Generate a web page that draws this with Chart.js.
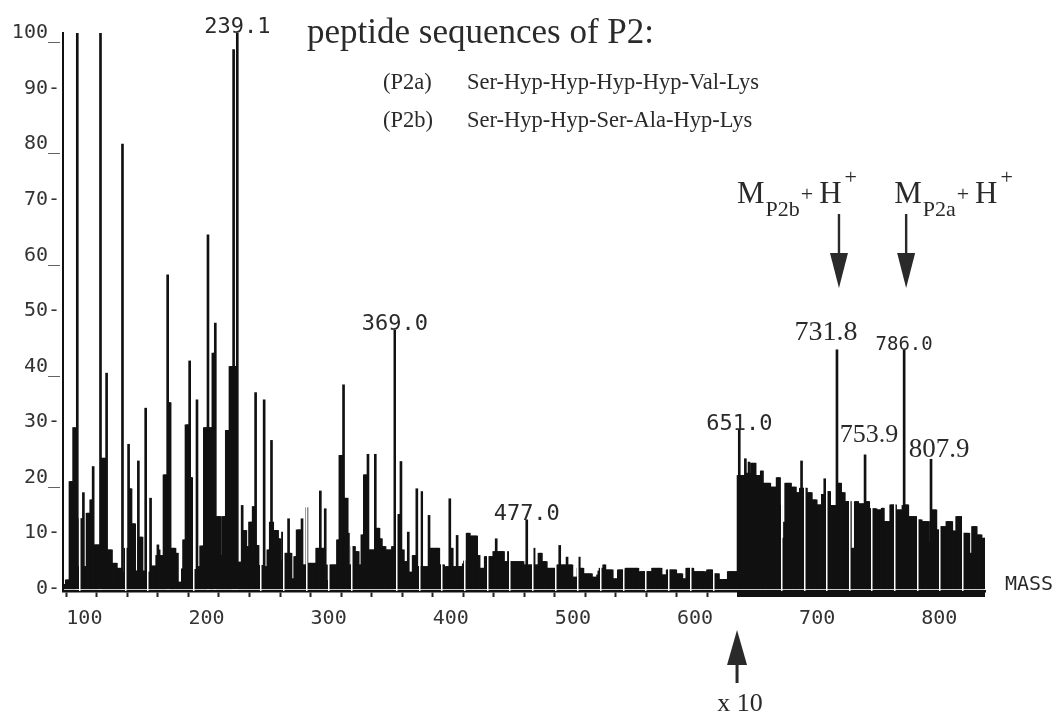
<!DOCTYPE html>
<html lang="en">
<head>
<meta charset="utf-8">
<title>Peptide P2 - mass spectrum</title>
<script src="https://cdn.jsdelivr.net/npm/chart.js@4.4.0/dist/chart.umd.min.js"></script>
<style>
    html, body { margin: 0; padding: 0; background: #fff; }
    #wrap { position: relative; width: 1060px; height: 715px; }
</style>
</head>
<body>
<div id="wrap"><canvas id="spectrum"></canvas></div>
<script>
// Интенсивности, одна точка на единицу массы
const lowStart = 98;
const lowIntensity = [
    0, 0.8, 1.6, 1.6, 1.6, 19.3, 19.3, 19.3, 29, 29,            // 98
    20, 100, 4, 12.6, 12.6, 12.6, 17.3, 4, 4, 13.6,             // 108
    13.6, 13.6, 16, 16, 22, 7.9, 7.9, 7.9, 7.9, 7.9,            // 118
    100, 23.5, 23.5, 23.5, 23.5, 38.8, 7, 7, 7, 7,              // 128
    4.6, 4.6, 4.6, 4.6, 3.7, 3.7, 3.7, 3.7, 80, 3,              // 138
    7.3, 7.3, 7.3, 26, 18, 18, 11.7, 11.7, 11.7, 3.2,           // 148
    3.2, 23, 9.3, 9.3, 9.3, 3.2, 3.2, 32.5, 3, 3,               // 158
    3, 16.3, 4.1, 4.1, 4.1, 4.1, 6, 7.9, 7, 6,                  // 168
    6, 6, 20.5, 20.5, 20.5, 56.5, 33.5, 33.5, 7.3, 7.3,         // 178
    7.3, 7.3, 6.4, 6.4, 1.2, 1.2, 1.2, 3.6, 8.8, 8.8,           // 188
    29.5, 29.5, 29.5, 41, 20, 20, 3.5, 3.5, 3.5, 34,            // 198
    4, 4, 7.7, 7.7, 7.7, 29, 29, 29, 63.7, 29,                  // 208
    29, 29, 42.4, 42.4, 47.8, 13, 13, 13, 13, 6,                // 218
    13, 13, 13, 28.5, 28.5, 28.5, 40, 40, 40, 97,               // 228
    40, 40, 100, 4.8, 4.8, 4.8, 15, 10.5, 10.5, 10.5,           // 238
    7.6, 7.6, 12, 12, 12, 14.8, 14.8, 35.3, 7.8, 7.8,           // 248
    4.2, 4.2, 4.2                                               // 258
];
const midStart = 261;
const midIntensity = [
    4.2, 34, 4, 4, 7, 7, 12, 26.7, 12, 10.5,                    // 261
    10.5, 10.5, 10.5, 9, 9, 5, 10.2, 5, 6.4, 6.4,               // 271
    6.4, 12.6, 6.4, 6.4, 1.8, 1.8, 5.8, 5.8, 10.6, 10.6,        // 281
    10.6, 10.6, 12.6, 4.3, 4.3, 4.3, 14.6, 4.6, 4.6, 4.6,       // 291
    4.6, 4.6, 4.6, 4.6, 7.3, 7.3, 7.3, 17.6, 7.3, 7.3,          // 301
    7.3, 14.4, 4.3, 1.5, 1.5, 4.3, 4.3, 4.3, 4.3, 4.3,          // 311
    4.3, 8.8, 8.8, 24, 24, 24, 36.7, 16.3, 16.3, 16.3,          // 321
    10, 4.3, 4.3, 7.6, 7.6, 7.6, 6.7, 6.7, 6.7, 4.3,            // 331
    4.3, 9.7, 9.7, 20.5, 20.5, 20.5, 24.2, 7, 7, 7,             // 341
    7, 7, 24.2, 10.9, 10.9, 10.9, 9, 9, 7.6, 7.6,               // 351
    7.6, 7, 7, 7, 7, 7, 7.6, 7.6, 46.5, 13.4,                   // 361
    13.4, 13.4, 13.4, 22.9, 7, 7, 4.9, 4.9, 4.9, 10.2,          // 371
    3, 3, 3, 6, 6, 6, 18, 4, 4, 4,                              // 381
    17.5, 4, 4, 4, 4, 4, 13.2, 7.3, 7.3, 7.3,                   // 391
    7.3, 7.3, 7.3, 7.3, 7.3, 4.3, 4.3, 4.3, 4.3, 2,             // 401
    4, 4, 4, 16.2, 7.3, 7.3, 4, 4, 4, 9.6,                      // 411
    4, 4, 4, 4, 4.5, 5, 5, 10, 10, 10,                          // 421
    9.5, 9.5, 9.5, 9.5, 9.5, 9.5, 6, 6, 3.7, 3.7,               // 431
    3.7, 3.7, 5.8, 5.8, 5.8, 5.8, 5.8, 5.8, 5.8, 6.7,           // 441
    6.7, 9, 6.7, 6.7, 6.7, 6.7, 6.7, 6.7, 4.9, 4.9,             // 451
    4.9, 6.7, 4.9, 4.9, 4.9, 4.9, 4.9, 4.9, 4.9, 4.9,           // 461
    4.9, 4.9, 4.9, 4.9, 4.3, 4.3, 12.4, 4.3, 4.3, 4.3           // 471
];
const highStart = 481;
const highIntensity = [
    4.3, 4.3, 7.3, 4.3, 4.3, 4.3, 6.4, 6.4, 6.4, 4.9,           // 481
    4.9, 4.9, 4.9, 3.7, 3.7, 3.7, 3.7, 3.7, 3.7, 3.7,           // 491
    3.7, 4.3, 4.3, 7.8, 4.3, 4.3, 4.3, 4.3, 4.3, 5.7,           // 501
    4.3, 4.3, 4.3, 4.3, 2.1, 2.1, 2.1, 2.1, 3.7, 5.7,           // 511
    3.7, 3.7, 3.7, 2.7, 2.7, 2.7, 2.7, 2.7, 2.7, 2.7,           // 521
    2.1, 2.1, 2.1, 2.1, 2.5, 3.2, 3.7, 3.7, 3.7, 4.3,           // 531
    4.3, 3.4, 3.4, 3.4, 3.4, 3.4, 3.4, 1.8, 1.8, 1.8,           // 541
    1.8, 3.4, 3.4, 3.4, 3.4, 3.4, 3.4, 3.7, 3.7, 3.7,           // 551
    3.7, 3.7, 3.7, 3.7, 3.7, 3.7, 3.7, 3.7, 1.6, 3.1,           // 561
    3.1, 3.1, 3.1, 3.1, 3.1, 3.1, 3.1, 3.1, 3.1, 3.7,           // 571
    3.7, 3.7, 3.7, 3.7, 3.7, 3.7, 3.7, 2.5, 2.5, 2.5,           // 581
    2.5, 3.4, 3.4, 3.4, 3.4, 3.4, 3.4, 3.4, 3.4, 2.7,           // 591
    2.7, 2.7, 2.7, 2.7, 1.8, 1.8, 1.8, 3.7, 3.7, 3.7,           // 601
    3.7, 3.7, 3.7, 3.1, 3.1, 3.1, 3.1, 3.1, 3.1, 3.1,           // 611
    3.1, 3.1, 1.7, 3.1, 3.4, 3.4, 3.4, 3.4, 3.4, 2.7,           // 621
    2.7, 2.7, 2.7, 2.7, 1.7, 1.7, 1.7, 1.7, 1.7, 1.7,           // 631
    1.7, 3.1, 3.1, 3.1, 3.1, 3.1, 3.1, 3.1, 3.1                 // 641
];
// участок после 650 записан прибором с усилением x10
const x10Start = 650;
const x10Intensity = [
    20.4, 28.6, 20.4, 20.4, 20.4, 20.4, 23.4, 20.8, 20.8, 22.8, // 650
    20.8, 22.6, 22.6, 22.6, 22.6, 20.4, 20.4, 20.4, 20.4, 21.2, // 660
    21.2, 19, 19, 19, 19, 19, 19, 18.3, 18.3, 18.3,             // 670
    18.3, 18.3, 20, 20, 20, 15, 9.1, 9.1, 12, 19,               // 680
    19, 19, 19, 19, 18.3, 18.3, 18.3, 18.3, 17.3, 17.3,         // 690
    17.3, 18.1, 23, 18.1, 18.1, 18.1, 18.1, 17.3, 17.3, 17.3,   // 700
    17.3, 16, 16, 16, 16, 15.1, 15.1, 15.1, 15.1, 17,           // 710
    17, 19.8, 17.5, 17.5, 17.5, 17.5, 15, 15, 15, 15,           // 720
    15, 43, 19, 19, 19, 17.3, 17.3, 17.3, 15.7, 15.7,           // 730
    15.7, 15.7, 15.7, 7.3, 7.3, 7.3, 15.7, 15.7, 15.7, 15.3,    // 740
    15.3, 15.3, 15.3, 15.3, 24.1, 15.7, 15.7, 15.7, 14.4, 14.4, // 750
    14.4, 14.4, 14.4, 14.4, 14.2, 14.2, 14.2, 14.2, 14.5, 14.5, // 760
    12.1, 12.1, 12.1, 12.1, 12.1, 15.1, 15.1, 15.1, 15.1, 15.1, // 770
    14.2, 14.2, 14.2, 14.2, 14.2, 15, 43, 15.1, 15.1, 15.1,     // 780
    13, 13, 13, 13, 13, 13, 13, 12.4, 12.4, 12.4,               // 790
    12.4, 12.1, 12.1, 12.1, 12.1, 12.1, 12.1, 8.4, 23.3, 14.2,  // 800
    14.2, 14.2, 14.2, 10.6, 10.6, 10.6, 11.2, 11.2, 11.2, 11.2, // 810
    11.2, 12.1, 12.1, 12.1, 12.1, 12.1, 10.4, 10.4, 10.4, 13,   // 820
    13, 13, 13, 13, 10, 10, 10, 10, 10, 10,                     // 830
    6.4, 6.4, 11.2, 11.2, 11.2, 11.2, 9.7, 9.7, 9.7, 9.7,       // 840
    9.1, 9.1, 9.1                                               // 850
];

// оси и подписи
const xMin = 97.3;
const xMax = 852.2;
const xTickLabels = ['100', '200', '300', '400', '500', '600', '700', '800'];
const yTickLabels = ['0-', '10-', '20_', '30-', '40_', '50-', '60_', '70-', '80_', '90-', '100_'];
const monoPeaks = [239.1, 369.0, 477.0, 651.0, 786.0];
const serifPeaks = [731.8, 753.9, 807.9];
const ionPeaks = [[731.8, 'P2b'], [786.0, 'P2a']];
const sequences = [
    ['(P2a)', 'Ser-Hyp-Hyp-Hyp-Hyp-Val-Lys'],
    ['(P2b)', 'Ser-Hyp-Hyp-Ser-Ala-Hyp-Lys']
];

// белые полосы от пера самописца
const stripeStart = 111.3;
const stripeStep = 18.53;

function toPoints(start, values) {
    return values.map((v, i) => ({ x: start + i, y: v }));
}

const points = [
    ...toPoints(lowStart, lowIntensity),
    ...toPoints(midStart, midIntensity),
    ...toPoints(highStart, highIntensity),
    ...toPoints(x10Start, x10Intensity)
];
const byMass = new Map(points.map(p => [p.x, p.y]));

// самая высокая линия рядом с подписанной массой
function peakTop(mass) {
    let best = Math.round(mass);
    for (let m = best - 1; m <= best + 1; m++) {
        if ((byMass.get(m) || 0) > (byMass.get(best) || 0)) best = m;
    }
    return { x: best, y: byMass.get(best) };
}

function nearTallPeak(v) {
    return points.some(p => p.y > 20 && Math.abs(p.x - v) < 1.6);
}

const ink = '#2a2a2a';
const mono = '"DejaVu Sans Mono", monospace';
const serif = '"Liberation Serif", "Times New Roman", serif';

const annotations = {
    id: 'annotations',
    afterDraw(chart) {
        const ctx = chart.ctx;
        const xs = chart.scales.x;
        const ys = chart.scales.y;
        const area = chart.chartArea;
        ctx.save();
        ctx.fillStyle = ink;
        ctx.textBaseline = 'alphabetic';

        // подписи пиков от прибора
        ctx.textAlign = 'center';
        monoPeaks.forEach(m => {
            const p = peakTop(m);
            ctx.font = (m === 786 ? 19 : 22) + 'px ' + mono;
            ctx.fillText(m.toFixed(1), xs.getPixelForValue(p.x), ys.getPixelForValue(p.y));
        });

        // подписи, добавленные вручную
        const serifShift = { 731.8: [-11, -10, 28], 753.9: [4, -13, 26], 807.9: [8, -2, 27] };
        serifPeaks.forEach(m => {
            const p = peakTop(m);
            const [dx, dy, size] = serifShift[m];
            ctx.font = size + 'px ' + serif;
            ctx.fillText(m.toFixed(1), xs.getPixelForValue(p.x) + dx, ys.getPixelForValue(p.y) + dy);
        });

        // заголовок и последовательности
        ctx.textAlign = 'left';
        ctx.font = '35px ' + serif;
        ctx.fillText('peptide sequences of P2:', 307, 43);
        ctx.font = '22.5px ' + serif;
        sequences.forEach((s, i) => {
            const y = 89 + i * 38;
            ctx.fillText(s[0], 383, y);
            ctx.fillText(s[1], 467, y);
        });

        // M + H+ со стрелками вниз
        ionPeaks.forEach(([m, sub], i) => {
            const ax = xs.getPixelForValue(peakTop(m).x) + 2;
            ctx.fillRect(ax - 1.2, 214, 2.4, 42);
            ctx.beginPath();
            ctx.moveTo(ax - 9, 253);
            ctx.lineTo(ax + 9, 253);
            ctx.lineTo(ax, 288);
            ctx.closePath();
            ctx.fill();

            let x = ax + (i === 0 ? -102 : -12);
            const runs = [['M', 31, 203, 1], [sub, 22, 216, 1], ['+', 22, 201, 6], ['H', 31, 203, 3], ['+', 22, 184, 0]];
            runs.forEach(([t, size, y, gap]) => {
                ctx.font = size + 'px ' + serif;
                ctx.fillText(t, x, y);
                x += ctx.measureText(t).width + gap;
            });
        });

        // участок x10: жирная линия под осью и стрелка вверх
        const x0 = xs.getPixelForValue(x10Start) - 1;
        ctx.fillStyle = '#111';
        ctx.fillRect(x0, area.bottom + 1, area.right - x0, 5);
        ctx.fillStyle = ink;
        ctx.beginPath();
        ctx.moveTo(x0 - 10, 665);
        ctx.lineTo(x0 + 10, 665);
        ctx.lineTo(x0, 630);
        ctx.closePath();
        ctx.fill();
        ctx.fillRect(x0 - 1.5, 664, 3, 19);
        ctx.textAlign = 'center';
        ctx.font = '26px ' + serif;
        ctx.fillText('x 10', x0 + 3, 711);

        ctx.textAlign = 'left';
        ctx.font = '20px ' + mono;
        ctx.fillText('MASS', 1005, 590);
        ctx.restore();
    }
};

const chart = new Chart(document.getElementById('spectrum').getContext('2d'), {
    type: 'bar',
    data: {
        datasets: [{
            label: 'P2',
            data: points,
            backgroundColor: '#111',
            borderWidth: 0,
            barThickness: 2
        }]
    },
    options: {
        responsive: true,
        maintainAspectRatio: false,
        animation: false,
        layout: { padding: { top: 33, right: 75, bottom: 0, left: 0 } },
        plugins: {
            legend: { display: false },
            tooltip: { enabled: false }
        },
        scales: {
            x: {
                type: 'linear',
                min: xMin,
                max: xMax,
                offset: false,
                afterFit(scale) { scale.height = 124; },
                border: { display: true, color: '#111', width: 2.5 },
                grid: { offset: false, drawOnChartArea: false, drawTicks: true, tickLength: 6, color: '#222', tickColor: '#222', tickWidth: 2 },
                ticks: {
                    stepSize: 25,
                    includeBounds: false,
                    autoSkip: false,
                    minRotation: 0,
                    maxRotation: 0,
                    align: 'start',
                    padding: 10,
                    color: '#333',
                    font: { family: mono, size: 20 },
                    callback: v => (v % 100 === 0 ? xTickLabels[v / 100 - 1] || '' : '')
                }
            },
            stripes: {
                type: 'linear',
                position: 'bottom',
                min: xMin,
                max: xMax,
                offset: false,
                afterBuildTicks(scale) {
                    const t = [];
                    for (let v = stripeStart; v < xMax; v += stripeStep) t.push({ value: v });
                    scale.ticks = t;
                },
                afterFit(scale) { scale.height = 0; },
                ticks: { display: false },
                border: { display: false },
                grid: {
                    z: 1,
                    offset: false,
                    drawTicks: false,
                    lineWidth: 1.5,
                    color: c => (c.tick && nearTallPeak(c.tick.value) ? 'rgba(255,255,255,0)' : '#ffffff')
                }
            },
            y: {
                min: -0.4,
                max: 100,
                afterFit(scale) { scale.width = 63; },
                border: { display: true, color: '#111', width: 2 },
                grid: { display: false, drawTicks: false },
                ticks: {
                    stepSize: 10,
                    includeBounds: false,
                    padding: 3,
                    color: '#333',
                    font: { family: mono, size: 20 },
                    callback: v => yTickLabels[Math.round(v / 10)] || ''
                }
            }
        }
    },
    plugins: [annotations]
});
</script>
</body>
</html>
